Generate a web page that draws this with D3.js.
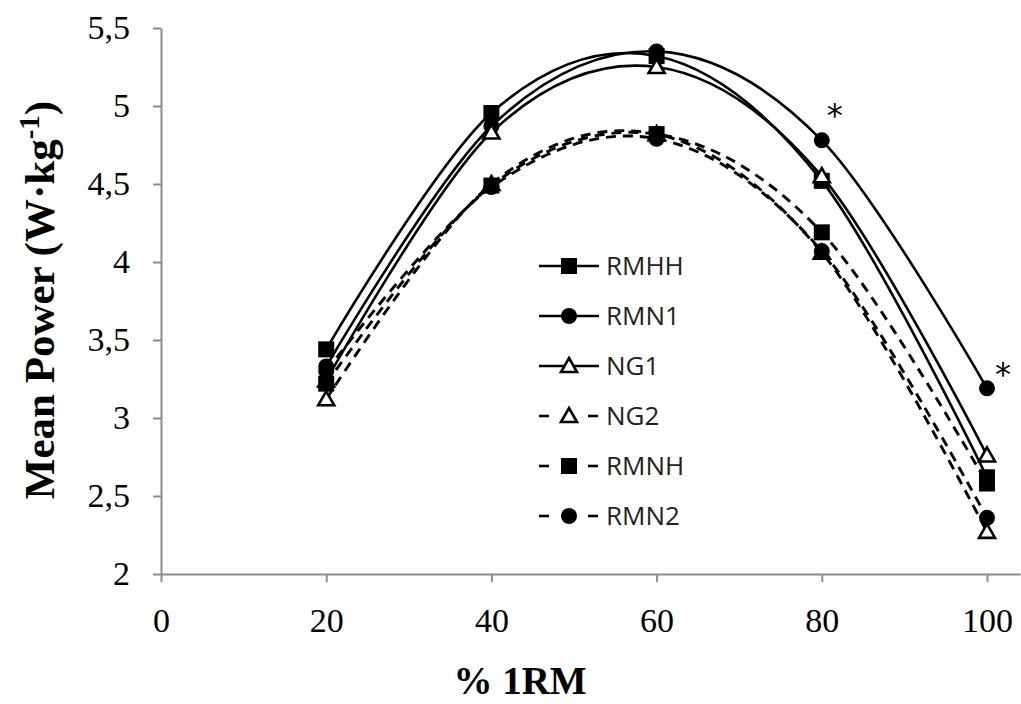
<!DOCTYPE html>
<html>
<head>
<meta charset="utf-8">
<script src="https://cdn.jsdelivr.net/npm/d3@7"></script>
<style>
  body { margin: 0; background: #fff; }
  svg { display: block; }
</style>
</head>
<body>
<div id="chart"></div>
<script>
// data
const loads = [20, 40, 60, 80, 100];
const seriesNames = ["RMHH", "RMN1", "NG1", "NG2", "RMNH", "RMN2"];
const rmhh = [3.44, 4.955, 5.32, 4.52, 2.62];
const rmn1 = [3.33, 4.87, 5.35, 4.78, 3.19];
const ng1 = [3.24, 4.83, 5.25, 4.55, 2.76];
const ng2 = [3.12, 4.50, 4.82, 4.06, 2.27];
const rmnh = [3.22, 4.49, 4.82, 4.19, 2.58];
const rmn2 = [3.30, 4.48, 4.79, 4.07, 2.36];
const xTicks = [0, 20, 40, 60, 80, 100];
const yTicks = [2, 2.5, 3, 3.5, 4, 4.5, 5, 5.5];
const starLoads = [80, 100];

const series = [
    {name: seriesNames[0], values: rmhh, marker: "square", dashed: false},
    {name: seriesNames[1], values: rmn1, marker: "circle", dashed: false},
    {name: seriesNames[2], values: ng1, marker: "triangle", dashed: false},
    {name: seriesNames[3], values: ng2, marker: "triangle", dashed: true},
    {name: seriesNames[4], values: rmnh, marker: "square", dashed: true},
    {name: seriesNames[5], values: rmn2, marker: "circle", dashed: true}
];

const width = 1021, height = 704;
const svg = d3.select("#chart")
    .append("svg")
    .attr("width", width)
    .attr("height", height);

const x = d3.scaleLinear().domain([0, 104]).range([161, 161 + 8.26 * 104]);
const y = d3.scaleLinear().domain([2, 5.5]).range([574, 28]);

const axisColor = "#8c8c8c";
const serif = "'Liberation Serif', 'Times New Roman', serif";

// x axis
const gx = svg.append("g")
    .attr("transform", `translate(0,${y(2)})`)
    .call(d3.axisBottom(x).tickValues(xTicks).tickSize(8).tickPadding(26).tickSizeOuter(0));
gx.select(".domain").attr("stroke", axisColor).attr("stroke-width", 2);
gx.selectAll(".tick line").attr("stroke", axisColor).attr("stroke-width", 2);
gx.selectAll(".tick text")
    .attr("font-family", serif)
    .attr("font-size", 34)
    .attr("fill", "#000");

// y axis
const gy = svg.append("g")
    .attr("transform", `translate(${x(0)},0)`)
    .call(d3.axisLeft(y).tickValues(yTicks).tickSize(8).tickPadding(23).tickSizeOuter(0)
        .tickFormat(d => String(d).replace(".", ",")));
gy.select(".domain").attr("stroke", axisColor).attr("stroke-width", 2);
gy.selectAll(".tick line").attr("stroke", axisColor).attr("stroke-width", 2);
gy.selectAll(".tick text")
    .attr("font-family", serif)
    .attr("font-size", 34)
    .attr("fill", "#000");

// axis titles
svg.append("text")
    .attr("x", 520)
    .attr("y", 694)
    .attr("text-anchor", "middle")
    .attr("font-family", serif)
    .attr("font-weight", "bold")
    .attr("font-size", 39)
    .text("% 1RM");

const yTitle = svg.append("text")
    .attr("transform", "translate(54,300) rotate(-90)")
    .attr("text-anchor", "middle")
    .attr("font-family", serif)
    .attr("font-weight", "bold")
    .attr("font-size", 43);
yTitle.append("tspan").text("Mean Power (W·kg");
yTitle.append("tspan").attr("dy", -15).attr("font-size", 29).text("-1");
yTitle.append("tspan").attr("dy", 15).text(")");

// lines
const line = d3.line()
    .x((d, i) => x(loads[i]))
    .y(d => y(d))
    .curve(d3.curveCardinal.tension(0));

function drawMarker(g, type, cx, cy) {
    if (type === "square") {
        g.append("rect")
            .attr("x", cx - 8).attr("y", cy - 8)
            .attr("width", 16).attr("height", 16)
            .attr("fill", "#000");
    } else if (type === "circle") {
        g.append("circle")
            .attr("cx", cx).attr("cy", cy).attr("r", 8)
            .attr("fill", "#000");
    } else {
        const p = [[cx, cy - 8], [cx + 8, cy + 6], [cx - 8, cy + 6]];
        g.append("path")
            .attr("d", "M" + p.join("L") + "Z")
            .attr("fill", "#fff")
            .attr("stroke", "#000")
            .attr("stroke-width", 2.6)
            .attr("stroke-linejoin", "miter");
    }
}

series.forEach(s => {
    const g = svg.append("g");
    g.append("path")
        .datum(s.values)
        .attr("d", line)
        .attr("fill", "none")
        .attr("stroke", "#000")
        .attr("stroke-width", s.dashed ? 2.9 : 2.6)
        .attr("stroke-dasharray", s.dashed ? "10,7" : null);
    s.values.forEach((v, i) => drawMarker(g, s.marker, x(loads[i]), y(v)));
});

// significance marks on RMN1
starLoads.forEach((l, k) => {
    const i = loads.indexOf(l);
    svg.append("text")
        .attr("x", x(l) + (k === 0 ? 13 : 16))
        .attr("y", y(rmn1[i]) + (k === 0 ? -14 : -3))
        .attr("text-anchor", "middle")
        .attr("font-family", "'DejaVu Sans', sans-serif")
        .attr("font-size", 32)
        .text("*");
});

// legend
const legend = svg.append("g").attr("transform", "translate(539,266)");
series.forEach((s, i) => {
    const row = legend.append("g").attr("transform", `translate(0,${i * 50})`);
    if (s.dashed) {
        row.append("line").attr("x1", 0).attr("x2", 10).attr("y1", 0).attr("y2", 0)
            .attr("stroke", "#000").attr("stroke-width", 2.6);
        row.append("line").attr("x1", 49).attr("x2", 59).attr("y1", 0).attr("y2", 0)
            .attr("stroke", "#000").attr("stroke-width", 2.6);
    } else {
        row.append("line").attr("x1", 0).attr("x2", 60).attr("y1", 0).attr("y2", 0)
            .attr("stroke", "#000").attr("stroke-width", 2.6);
    }
    drawMarker(row, s.marker, 30, 0);
    row.append("text")
        .attr("x", 67)
        .attr("y", 0)
        .attr("dy", "0.35em")
        .attr("font-family", "'Open Sans', sans-serif")
        .attr("font-size", 26)
        .attr("fill", "#222")
        .text(s.name);
});
</script>
</body>
</html>
